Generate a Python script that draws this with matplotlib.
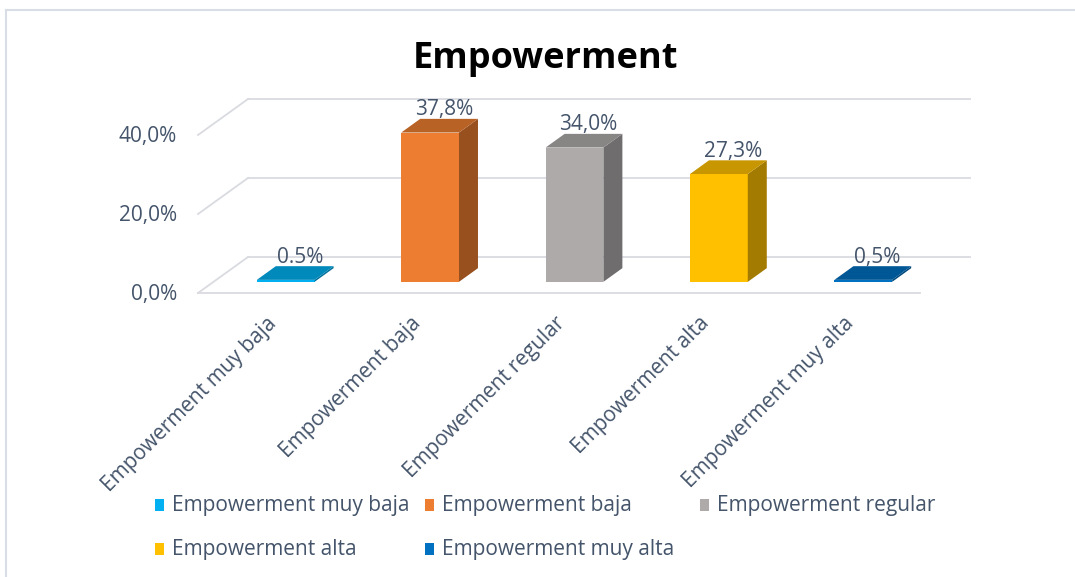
import matplotlib
matplotlib.use("Agg")
import matplotlib.pyplot as plt
from matplotlib.patches import Polygon, Rectangle
import numpy as np

# ---- data ----
categories = ["Empowerment muy baja", "Empowerment baja", "Empowerment regular",
              "Empowerment alta", "Empowerment muy alta"]
values = [0.5, 37.8, 34.0, 27.3, 0.5]
value_labels = ["0.5%", "37,8%", "34,0%", "27,3%", "0,5%"]
yticks = [0, 20, 40]
ytick_labels = ["0,0%", "20,0%", "40,0%"]
title = "Empowerment"

colors = ["#00B0F0", "#ED7D31", "#AEAAAA", "#FFC000", "#0070C0"]

W, H = 1075, 577
FONT = "Open Sans"
TXT = "#44546A"
FS = 15

fig = plt.figure(figsize=(W / 100, H / 100), dpi=100)
ax = fig.add_axes([0, 0, 1, 1])
ax.set_axis_off()

# mapping of the axes so that the oblique 3D look fits the frame
PX_CAT, X0 = 144.4, 198.0
PX_PCT, Y0 = 3.95, 293.0
xl = -0.5 - X0 / PX_CAT
yl = -(H - Y0) / PX_PCT
ax.set_xlim(xl, xl + W / PX_CAT)
ax.set_ylim(yl, yl + H / PX_PCT)

DX = 50 / PX_CAT      # full depth offset (x units)
DY = 36 / PX_PCT      # full depth offset (y units)
n = len(categories)
x_lo, x_hi = -0.5, n - 0.5

def P(x, y, z):
    return (x + z * DX, y + z * DY)

grid_c = "#D9DBE0"
# gridlines: back wall + left side wall
for t in yticks:
    a, b = P(x_lo, t, 1), P(x_hi, t, 1)
    ax.plot([a[0], b[0]], [a[1], b[1]], color=grid_c, lw=1.3, zorder=1)
    c = P(x_lo, t, 0)
    ax.plot([c[0], a[0]], [c[1], a[1]], color=grid_c, lw=1.3, zorder=1)
# floor front edge
f0, f1 = P(x_lo, 0, 0), P(x_hi, 0, 0)
ax.plot([f0[0], f1[0]], [f0[1], f1[1]], color=grid_c, lw=1.3, zorder=1)

def shade(c, f):
    r, g, b = matplotlib.colors.to_rgb(c)
    return (r * f, g * f, b * f)

BW = 0.40
Z0, Z1 = 0.31, 0.69
xs = np.arange(n)
# front faces drawn as bars
fx = xs + Z0 * DX
fb = Z0 * DY
ax.bar(fx, values, width=BW, bottom=fb, color=colors, zorder=3, linewidth=0)
for i, v in enumerate(values):
    xl0 = xs[i] - BW / 2
    xr0 = xs[i] + BW / 2
    # side face
    side = [P(xr0, 0, Z0), P(xr0, 0, Z1), P(xr0, v, Z1), P(xr0, v, Z0)]
    ax.add_patch(Polygon(side, closed=True, facecolor=shade(colors[i], 0.64),
                         edgecolor="none", zorder=3))
    # top face
    top = [P(xl0, v, Z0), P(xr0, v, Z0), P(xr0, v, Z1), P(xl0, v, Z1)]
    ax.add_patch(Polygon(top, closed=True, facecolor=shade(colors[i], 0.78),
                         edgecolor="none", zorder=4))
    # value label
    lx, ly = P(xs[i], v, Z1)
    ax.annotate(value_labels[i], (lx - 0.1 * DX, ly), xytext=(0, -1),
                textcoords="offset points", ha="center", va="bottom",
                fontsize=FS, color=TXT, family=FONT, zorder=5)

# y tick labels
for t, s in zip(yticks, ytick_labels):
    ax.text(x_lo - 21 / PX_CAT, t - 0.4, s, ha="right", va="center",
            fontsize=FS, color=TXT, family=FONT)

# category labels
for i, s in enumerate(categories):
    ax.text(xs[i] - 0.03, -5.0, s, rotation=45, rotation_mode="anchor",
            ha="right", va="top", fontsize=FS, color=TXT, family=FONT)

# title
fig.text(546 / W, 1 - 59 / H, title, ha="center", va="center",
         fontsize=26, fontweight="bold", color="black", family=FONT)

# legend (row-wise, Excel style)
leg_pos = [(155, 505), (425, 505), (700, 505), (155, 549), (425, 549)]
for (px, py), s, c in zip(leg_pos, categories, colors):
    fig.add_artist(Rectangle((px / W, 1 - (py + 6) / H), 9 / W, 12 / H,
                             transform=fig.transFigure, facecolor=c,
                             edgecolor="none"))
    fig.text((px + 17) / W, 1 - py / H, s, ha="left", va="center",
             fontsize=FS, color=TXT, family=FONT)

# chart frame
frame_c = "#D9DDE6"
fig.add_artist(plt.Line2D([6 / W, 6 / W], [0, 1 - 10 / H], color=frame_c,
                          lw=1.5, transform=fig.transFigure))
fig.add_artist(plt.Line2D([6 / W, 1], [1 - 10 / H, 1 - 10 / H], color=frame_c,
                          lw=1.5, transform=fig.transFigure))

fig.savefig("out.png", dpi=100, facecolor="white")
